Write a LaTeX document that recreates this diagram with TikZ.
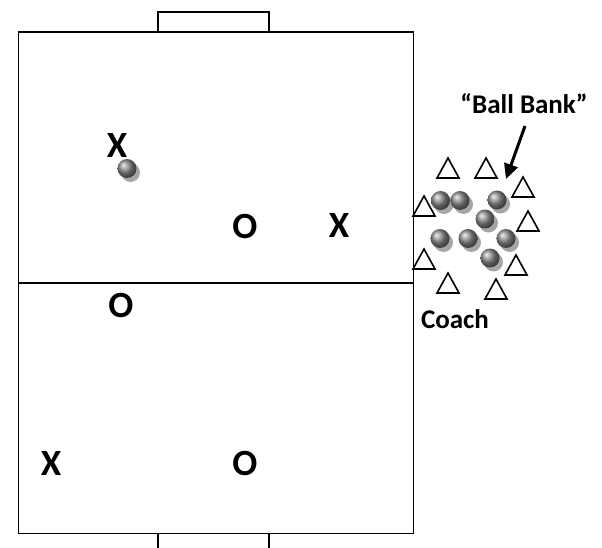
\documentclass[tikz,border=0pt]{standalone}
\usepackage{fontspec}
\setmainfont{Carlito}
\usetikzlibrary{arrows.meta}
\tikzset{
  field/.style={line width=1.8pt, draw=black},
  player/.style={font=\bfseries\fontsize{37}{37}\selectfont, inner sep=0pt},
  caption/.style={font=\bfseries\fontsize{27}{27}\selectfont, inner sep=0pt},
  cone/.pic={\draw[line width=1.6pt, line join=miter] (0,-10) -- (11,10) -- (-11,10) -- cycle;},
  ball/.pic={
    \fill[gray!70] (3.5,4) circle (9.5);
    \shade[ball color=gray!90] (0,0) circle (9.5);
  }
}
\begin{document}
\begin{tikzpicture}[x=1pt, y=-1pt]
\useasboundingbox (0,0) rectangle (602,548);
% pitch outline, half-way line and goals
\draw[field] (18.5,32) rectangle (413.5,533.5);
\draw[field] (18.5,283) -- (413.5,283);
\draw[field] (158,32) -- (158,12) -- (269,12) -- (269,32);
\draw[field] (158,533.5) -- (158,548);
\draw[field] (269,533.5) -- (269,548);

% players
\node[player] (x1) at (117,146) {X};
\node[player] (o1) at (245,226) {O};
\node[player] (x2) at (339,226) {X};
\node[player] (o2) at (121,305) {O};
\node[player] (x3) at (51,463) {X};
\node[player] (o3) at (245,463) {O};
\pic at (127,168.5) {ball};

% cones round the ball bank
\pic at (448,168) {cone};
\pic at (486,168) {cone};
\pic at (523,187) {cone};
\pic at (424,206) {cone};
\pic at (528,221) {cone};
\pic at (424,259) {cone};
\pic at (516,265) {cone};
\pic at (448,283) {cone};
\pic at (496,289) {cone};

% balls in the bank
\pic at (440.5,200.5) {ball};
\pic at (460,200.5) {ball};
\pic at (497,200) {ball};
\pic at (485,219) {ball};
\pic at (440,238.5) {ball};
\pic at (468,238.5) {ball};
\pic at (506,238.5) {ball};
\pic at (490,258) {ball};

% labels
\node[caption] (bank) at (524,104) {“Ball Bank”};
\node[caption] (coach) at (455,319) {Coach};
\coordinate (from) at (525,126);
\coordinate (to) at (506,179);
\draw[line width=3pt, -{Triangle[length=15pt, width=14pt]}] (from) -- (to);
\end{tikzpicture}
\end{document}
